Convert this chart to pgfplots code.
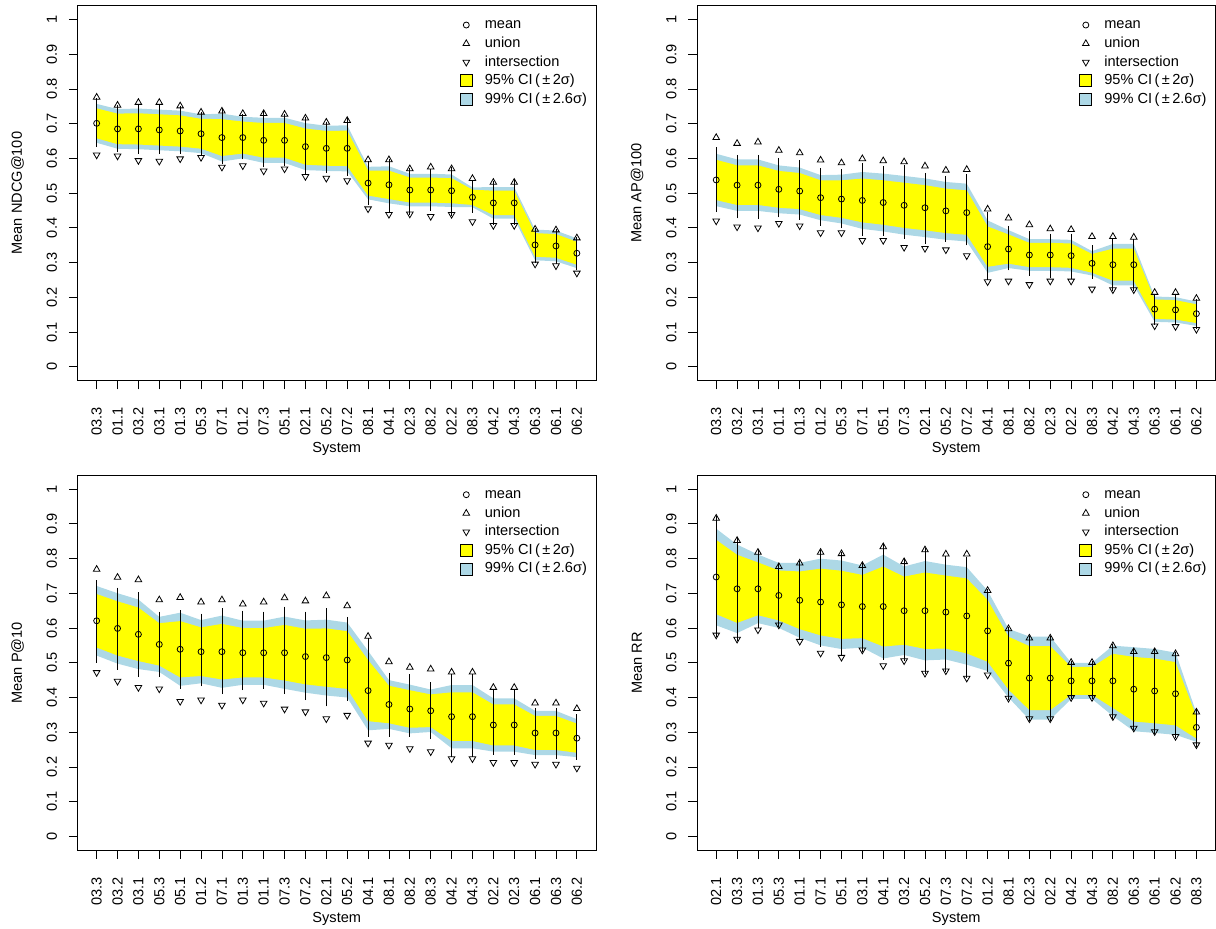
\documentclass[border=0pt]{standalone}
\usepackage{fontspec}
\setmainfont{Liberation Sans}
\usepackage{pgfplots}
\usepackage{pgfplotstable}
\usepgfplotslibrary{fillbetween}
\pgfplotsset{compat=1.18}
\definecolor{ciblue}{HTML}{ADD8E6}
\definecolor{ciyel}{HTML}{FFFF00}
\newcommand\ff{\fontsize{14.6}{17}\selectfont}

% columns: x, mean, half-width of 95% CI (2 sigma), union, intersection, error bar top, error bar bottom
\pgfplotstableread{
x m w u i eu el
1 0.701 0.043 0.776 0.610 0.761 0.644
2 0.685 0.044 0.753 0.607 0.743 0.631
3 0.685 0.045 0.761 0.594 0.743 0.625
4 0.682 0.045 0.761 0.592 0.743 0.624
5 0.679 0.045 0.751 0.599 0.740 0.625
6 0.671 0.043 0.733 0.603 0.723 0.621
7 0.660 0.053 0.736 0.575 0.734 0.594
8 0.660 0.046 0.729 0.579 0.717 0.609
9 0.652 0.050 0.729 0.564 0.724 0.586
10 0.652 0.050 0.727 0.570 0.717 0.589
11 0.634 0.052 0.716 0.548 0.709 0.565
12 0.629 0.050 0.704 0.543 0.694 0.569
13 0.629 0.051 0.709 0.536 0.706 0.562
14 0.529 0.036 0.596 0.455 0.580 0.478
15 0.524 0.041 0.596 0.439 0.588 0.457
16 0.509 0.036 0.570 0.440 0.562 0.450
17 0.509 0.036 0.575 0.433 0.558 0.461
18 0.507 0.036 0.570 0.439 0.564 0.447
19 0.488 0.022 0.542 0.418 0.524 0.455
20 0.472 0.035 0.531 0.407 0.524 0.420
21 0.472 0.035 0.531 0.407 0.527 0.420
22 0.351 0.034 0.396 0.296 0.387 0.310
23 0.348 0.034 0.394 0.291 0.385 0.308
24 0.327 0.033 0.371 0.270 0.363 0.289
}\tabA

\pgfplotstableread{
x m w u i eu el
1 0.538 0.058 0.660 0.420 0.620 0.457
2 0.523 0.057 0.643 0.403 0.599 0.439
3 0.523 0.057 0.647 0.400 0.599 0.437
4 0.511 0.053 0.623 0.413 0.590 0.442
5 0.506 0.052 0.616 0.406 0.584 0.435
6 0.487 0.050 0.595 0.386 0.560 0.418
7 0.483 0.054 0.587 0.386 0.557 0.410
8 0.479 0.063 0.599 0.364 0.575 0.388
9 0.473 0.064 0.593 0.364 0.566 0.388
10 0.465 0.065 0.590 0.344 0.569 0.380
11 0.458 0.065 0.578 0.341 0.547 0.365
12 0.449 0.064 0.566 0.337 0.538 0.372
13 0.444 0.064 0.568 0.320 0.543 0.361
14 0.346 0.058 0.454 0.245 0.433 0.262
15 0.339 0.042 0.428 0.247 0.394 0.289
16 0.322 0.035 0.409 0.237 0.379 0.274
17 0.322 0.035 0.397 0.247 0.372 0.268
18 0.320 0.035 0.395 0.247 0.372 0.265
19 0.298 0.027 0.375 0.224 0.339 0.265
20 0.294 0.046 0.375 0.222 0.357 0.229
21 0.294 0.046 0.373 0.222 0.357 0.229
22 0.166 0.028 0.214 0.118 0.199 0.133
23 0.164 0.028 0.214 0.116 0.199 0.133
24 0.153 0.027 0.197 0.108 0.183 0.121
}\tabB

\pgfplotstableread{
x m w u i eu el
1 0.621 0.077 0.769 0.472 0.726 0.511
2 0.599 0.078 0.746 0.447 0.705 0.491
3 0.582 0.077 0.739 0.429 0.691 0.470
4 0.553 0.061 0.681 0.425 0.636 0.470
5 0.539 0.081 0.688 0.389 0.640 0.437
6 0.532 0.070 0.675 0.393 0.630 0.444
7 0.532 0.080 0.681 0.378 0.645 0.421
8 0.529 0.071 0.669 0.393 0.639 0.433
9 0.529 0.071 0.675 0.384 0.636 0.437
10 0.529 0.080 0.687 0.367 0.650 0.421
11 0.518 0.080 0.678 0.359 0.636 0.404
12 0.515 0.084 0.693 0.339 0.646 0.386
13 0.508 0.083 0.664 0.349 0.621 0.402
14 0.420 0.088 0.576 0.269 0.560 0.299
15 0.380 0.054 0.503 0.263 0.460 0.299
16 0.367 0.054 0.487 0.253 0.456 0.298
17 0.362 0.047 0.482 0.244 0.432 0.292
18 0.345 0.070 0.473 0.224 0.456 0.240
19 0.345 0.070 0.473 0.224 0.456 0.240
20 0.321 0.059 0.429 0.213 0.410 0.247
21 0.321 0.059 0.429 0.213 0.410 0.247
22 0.298 0.049 0.384 0.208 0.357 0.235
23 0.298 0.049 0.384 0.208 0.357 0.235
24 0.283 0.042 0.368 0.197 0.341 0.232
}\tabC

\pgfplotstableread{
x m w u i eu el
1 0.747 0.107 0.916 0.580 0.911 0.587
2 0.713 0.098 0.852 0.568 0.847 0.574
3 0.713 0.076 0.818 0.595 0.813 0.611
4 0.694 0.072 0.777 0.609 0.772 0.616
5 0.680 0.083 0.787 0.562 0.782 0.578
6 0.675 0.096 0.818 0.528 0.813 0.557
7 0.667 0.098 0.814 0.516 0.808 0.532
8 0.662 0.091 0.780 0.537 0.775 0.542
9 0.662 0.115 0.834 0.492 0.830 0.520
10 0.650 0.098 0.791 0.506 0.787 0.516
11 0.650 0.110 0.825 0.470 0.818 0.480
12 0.646 0.105 0.813 0.477 0.796 0.485
13 0.635 0.108 0.813 0.456 0.794 0.468
14 0.592 0.089 0.708 0.465 0.700 0.486
15 0.499 0.076 0.598 0.398 0.593 0.405
16 0.456 0.092 0.571 0.339 0.566 0.345
17 0.456 0.092 0.571 0.339 0.566 0.345
18 0.448 0.040 0.501 0.400 0.494 0.408
19 0.448 0.040 0.501 0.400 0.494 0.408
20 0.448 0.078 0.549 0.345 0.542 0.350
21 0.424 0.093 0.532 0.312 0.528 0.317
22 0.419 0.093 0.532 0.302 0.528 0.307
23 0.411 0.091 0.526 0.288 0.521 0.295
24 0.314 0.032 0.358 0.264 0.355 0.269
}\tabD

\pgfplotsset{
  panel/.style={
    anchor=south west, scale only axis, width=519pt, height=375.4pt,
    xmin=0.08, xmax=24.92, ymin=-0.04, ymax=1.04,
    xtick={1,...,24},
    ytick={0,0.1,0.2,0.3,0.4,0.5,0.6,0.7,0.8,0.9,1},
    yticklabels={0,0.1,0.2,0.3,0.4,0.5,0.6,0.7,0.8,0.9,1},
    tick align=outside, xtick pos=bottom, ytick pos=left,
    major tick length=8.6pt,
    tick style={black, line width=0.8pt},
    axis line style={black, line width=0.8pt},
    xticklabel style={font=\ff, rotate=90, anchor=east, inner sep=0pt},
    xticklabel shift=18pt,
    yticklabel style={font=\ff, rotate=90, anchor=base, inner sep=0pt},
    yticklabel shift=12pt,
    xlabel={System},
    xlabel style={font=\ff, at={(axis description cs:0.5,-0.182)}, anchor=center},
    ylabel style={font=\ff, at={(axis description cs:-0.1156,0.5)}, anchor=center},
    legend style={font=\ff, draw=none, fill=none, at={(axis description cs:0.733,0.970)}, anchor=north west,
      row sep=2.6pt, column sep=9pt, inner sep=0pt,
      nodes={inner sep=1pt, text height=10.8pt, text depth=3.2pt}},
    legend cell align=left,
  },
  legmean/.style={legend image code/.code={\path[draw=none, fill=none] (0pt,-6pt) rectangle (17pt,6pt);
      \draw[black, line width=0.8pt, fill=none] (8.5pt,0pt) circle (3pt);}},
  legunion/.style={legend image code/.code={\path[draw=none, fill=none] (0pt,-6pt) rectangle (17pt,6pt);
      \draw[black, line width=0.8pt, fill=none] (5.2pt,-1.9pt) -- (11.8pt,-1.9pt) -- (8.5pt,3.8pt) -- cycle;}},
  leginter/.style={legend image code/.code={\path[draw=none, fill=none] (0pt,-6pt) rectangle (17pt,6pt);
      \draw[black, line width=0.8pt, fill=none] (5.2pt,1.9pt) -- (11.8pt,1.9pt) -- (8.5pt,-3.8pt) -- cycle;}},
  legyel/.style={legend image code/.code={\draw[fill=ciyel, draw=black, line width=0.8pt] (2.5pt,-6pt) rectangle (14.5pt,6pt);}},
  legblue/.style={legend image code/.code={\draw[fill=ciblue, draw=black, line width=0.8pt] (2.5pt,-6pt) rectangle (14.5pt,6pt);}},
}

\newcommand{\panel}[5]{%
\begin{axis}[panel, at={(#4,#5)}, ylabel={#2}, xticklabels={#3}]
\addlegendimage{legmean}\addlegendentry{mean}
\addlegendimage{legunion}\addlegendentry{union}
\addlegendimage{leginter}\addlegendentry{intersection}
\addlegendimage{legyel}\addlegendentry{95\% CI\,(\,±\,2σ)}
\addlegendimage{legblue}\addlegendentry{99\% CI\,(\,±\,2.6σ)}
\addplot[forget plot, draw=none, name path=hb] table[x=x, y expr=\thisrow{m}+1.3*\thisrow{w}] {#1};
\addplot[forget plot, draw=none, name path=lb] table[x=x, y expr=\thisrow{m}-1.3*\thisrow{w}] {#1};
\addplot[forget plot, fill=ciblue, draw=none] fill between[of=hb and lb];
\addplot[forget plot, draw=none, name path=hy] table[x=x, y expr=\thisrow{m}+\thisrow{w}] {#1};
\addplot[forget plot, draw=none, name path=ly] table[x=x, y expr=\thisrow{m}-\thisrow{w}] {#1};
\addplot[forget plot, fill=ciyel, draw=none] fill between[of=hy and ly];
\addplot[forget plot, draw=none, mark=none,
  error bars/.cd, y dir=both, y explicit,
  error bar style={draw=black, line width=0.8pt},
  error mark options={draw=black, line width=0.8pt, mark size=4pt}]
  table[x=x, y=m, y error plus expr=\thisrow{eu}-\thisrow{m}, y error minus expr=\thisrow{m}-\thisrow{el}] {#1};
\addplot[forget plot, only marks, mark=o, mark size=3pt, mark options={draw=black, fill=none, line width=0.8pt}] table[x=x, y=m] {#1};
\addplot[forget plot, only marks, mark=triangle, mark size=3.8pt, mark options={draw=black, fill=none, line width=0.8pt}] table[x=x, y=u] {#1};
\addplot[forget plot, only marks, mark=triangle, mark size=3.8pt, mark options={draw=black, fill=none, line width=0.8pt, rotate=180}] table[x=x, y=i] {#1};
\end{axis}}

\begin{document}
\begin{tikzpicture}
\path (0pt,0pt) rectangle (1216pt,928pt);
\panel{\tabA}{Mean NDCG@100}{03.3,01.1,03.2,03.1,01.3,05.3,07.1,01.2,07.3,05.1,02.1,05.2,07.2,08.1,04.1,02.3,08.2,02.2,08.3,04.2,04.3,06.3,06.1,06.2}{77.5pt}{547pt}
\panel{\tabB}{Mean AP@100}{03.3,03.2,03.1,01.1,01.3,01.2,05.3,07.1,05.1,07.3,02.1,05.2,07.2,04.1,08.1,08.2,02.3,02.2,08.3,04.2,04.3,06.3,06.1,06.2}{697.5pt}{547pt}
\panel{\tabC}{Mean P@10}{03.3,03.2,03.1,05.3,05.1,01.2,07.1,01.3,01.1,07.3,07.2,02.1,05.2,04.1,08.1,08.2,08.3,04.2,04.3,02.2,02.3,06.1,06.3,06.2}{77.5pt}{77pt}
\panel{\tabD}{Mean RR}{02.1,03.3,01.3,05.3,01.1,07.1,05.1,03.1,04.1,03.2,05.2,07.3,07.2,01.2,08.1,02.3,02.2,04.2,04.3,08.2,06.3,06.1,06.2,08.3}{697.5pt}{77pt}
\end{tikzpicture}
\end{document}
